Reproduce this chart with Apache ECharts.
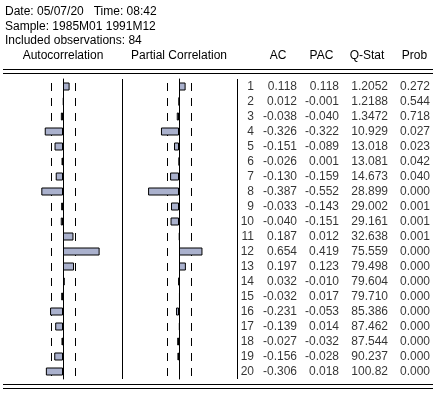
<!DOCTYPE html>
<html><head><meta charset="utf-8">
<script src="https://cdn.jsdelivr.net/npm/echarts@6/dist/echarts.min.js"></script>
<style>html,body{margin:0;padding:0;background:#fff}#c{width:439px;height:396px}</style>
</head><body><div id="c"></div>
<script>
const headerLines = ['Date: 05/07/20   Time: 08:42', 'Sample: 1985M01 1991M12', 'Included observations: 84'];
const lags = [1,2,3,4,5,6,7,8,9,10,11,12,13,14,15,16,17,18,19,20];
const ac = [0.118,0.012,-0.038,-0.326,-0.151,-0.026,-0.130,-0.387,-0.033,-0.040,0.187,0.654,0.197,0.032,-0.032,-0.231,-0.139,-0.027,-0.156,-0.306];
const pac = [0.118,-0.001,-0.040,-0.322,-0.089,0.001,-0.159,-0.552,-0.143,-0.151,0.012,0.419,0.123,-0.010,0.017,-0.053,0.014,-0.032,-0.028,0.018];
const qstat = [1.2052,1.2188,1.3472,10.929,13.018,13.081,14.673,28.899,29.002,29.161,32.638,75.559,79.498,79.604,79.710,85.386,87.462,87.544,90.237,100.82];
const prob = [0.272,0.544,0.718,0.027,0.023,0.042,0.040,0.000,0.001,0.001,0.001,0.000,0.000,0.000,0.000,0.000,0.000,0.000,0.000,0.000];
const confBound = 0.218; // 2/sqrt(84)
const tableHeaders = ['AC','PAC','Q-Stat','Prob'];

const FONT = 'Arial, "Liberation Sans", sans-serif';
const cats = lags.map(String);
const chart = echarts.init(document.getElementById('c'), null, {renderer:'canvas'});

const gridTop = 79, gridH = 300;
const scale = 56;
const grids = [
  {left: 63 - scale, top: gridTop, width: 2*scale, height: gridH},
  {left: 179 - scale, top: gridTop, width: 2*scale, height: gridH},
  {left: 240, top: gridTop, width: 195, height: gridH}
];
const xAxes = [0,1].map(i => ({gridIndex:i, type:'value', min:-1, max:1, show:false}))
  .concat([{gridIndex:2, type:'value', min:0, max:195, show:false}]);
const yAxes = [0,1].map(i => ({gridIndex:i, type:'category', data:cats, inverse:true,
    axisLine:{show:true, onZero:true, lineStyle:{color:'#000', width:1}}, axisTick:{show:false}, axisLabel:{show:false}, splitLine:{show:false}}))
  .concat([{gridIndex:2, type:'category', data:cats, inverse:true, show:false}]);

function barSeries(idx, vals){
  return {type:'bar', xAxisIndex:idx, yAxisIndex:idx, barWidth:8, z:3,
    data: vals, itemStyle:{color:'#aab1cd', borderColor:'#000', borderWidth:1}, silent:true, animation:false};
}
function dashSeries(idx){
  const d = [];
  cats.forEach(c => { d.push([-confBound, c]); d.push([confBound, c]); });
  return {type:'custom', xAxisIndex:idx, yAxisIndex:idx, z:2, silent:true, animation:false,
    data:d,
    renderItem: (params, api) => {
      const p = api.coord([api.value(0), api.value(1)]);
      const x = Math.round(p[0]) + 0.5;
      return {type:'line', shape:{x1:x, y1:Math.round(p[1]) - 4, x2:x, y2:Math.round(p[1]) + 4},
        style:{stroke:'#000', lineWidth:1}};
    }};
}
const colRight = [14, 57, 99, 148, 190];
const colData = [
  lags.map(String),
  ac.map(v => v.toFixed(3)),
  pac.map(v => v.toFixed(3)),
  qstat.map(v => v.toPrecision(5)),
  prob.map(v => v.toFixed(3))
];
const textSeries = colData.map((col, ci) => ({
  type:'scatter', xAxisIndex:2, yAxisIndex:2, symbolSize:0, silent:true, animation:false,
  data: col.map((t, r) => ({value:[colRight[ci], cats[r]], txt:t})),
  label:{show:true, position:'inside', align:'right', verticalAlign:'middle', color:'#000',
    fontFamily:FONT, fontSize:12, formatter: p => p.data.txt}
}));

const graphic = [];
headerLines.forEach((t, i) => graphic.push({type:'text', left:5, top: 6 + i*14.5,
  style:{text:t, font:'12px '+FONT, fill:'#000'}}));
[['Autocorrelation',63],['Partial Correlation',179]].forEach(([t,x]) => graphic.push({type:'text', x:x, y:56,
  style:{text:t, font:'12px '+FONT, fill:'#000', textAlign:'center', textVerticalAlign:'middle'}}));
const hdrCenters = [278, 321.5, 367, 414.5];
tableHeaders.forEach((t,i) => graphic.push({type:'text', x:hdrCenters[i], y:56,
  style:{text:t, font:'12px '+FONT, fill:'#000', textAlign:'center', textVerticalAlign:'middle'}}));
[69.5, 73.5, 384.5, 388.5].forEach(y => graphic.push({type:'line', shape:{x1:3, y1:y, x2:433, y2:y},
  style:{stroke:'#000', lineWidth:1}}));
[122.5, 237.5].forEach(x => graphic.push({type:'line', shape:{x1:x, y1:gridTop, x2:x, y2:gridTop+gridH},
  style:{stroke:'#000', lineWidth:1}}));

chart.setOption({
  animation:false,
  backgroundColor:'#fff',
  grid: grids,
  xAxis: xAxes,
  yAxis: yAxes,
  series: [barSeries(0, ac), barSeries(1, pac), dashSeries(0), dashSeries(1)].concat(textSeries),
  graphic: graphic
});
</script></body></html>
